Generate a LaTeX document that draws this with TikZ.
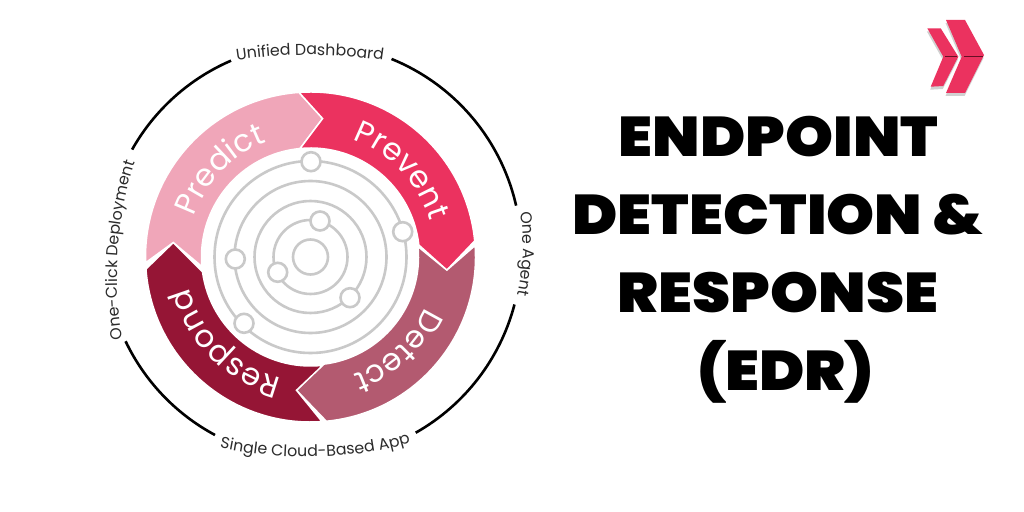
\documentclass[tikz,border=0pt]{standalone}
\usepackage{fontspec}
\usetikzlibrary{decorations.text}
\setmainfont{Poppins}
\newfontfamily\titlefont[FakeStretch=1.09]{Poppins Black}
\definecolor{cPredict}{HTML}{F0A6B9}
\definecolor{cPrevent}{HTML}{EB325F}
\definecolor{cDetect}{HTML}{B35A70}
\definecolor{cRespond}{HTML}{951535}
\definecolor{cRing}{HTML}{C9C9C9}
\definecolor{cText}{HTML}{2B2B2B}
\tikzset{
  x=1pt,y=1pt,
  seg/.style={draw=white,line width=1.5pt,line join=miter},
  ring/.style={draw=cRing,line width=2.6pt},
  dot/.style={circle,draw=cRing,line width=2.6pt,fill=white,minimum size=19pt,inner sep=0pt},
  outerarc/.style={draw=black,line width=2.6pt},
  seglabel/.style={decorate,decoration={text along path,text align=center,
     text={|\fontsize{31}{31}\selectfont\color{white}|#1}}},
  ringlabel/.style={decorate,decoration={text along path,text align=center,
     text={|\fontsize{15.8}{15.8}\selectfont\color{cText}|#1}}},
  titletext/.style={font=\fontsize{56}{56}\titlefont,text=black,inner sep=0pt,anchor=base},
  chev/.style={fill=cPrevent,draw=none},
  chevsh/.style={fill=black!45,draw=none,opacity=.4},
}
\begin{document}
\begin{tikzpicture}
\useasboundingbox (0,0) rectangle (1024,511);
\fill[white] (0,0) rectangle (1024,511);
\begin{scope}[shift={(310.5,254)}]
  \path[seg,fill=cPredict] (182:165) arc[start angle=182,end angle=94,radius=165]
     -- (85:139) -- (95.5:109) arc[start angle=95.5,end angle=185,radius=109] -- (174:138) -- cycle;
  \path[seg,fill=cPrevent] (94:165) arc[start angle=94,end angle=5.6,radius=165]
     -- (-5.5:137) -- (6.3:109) arc[start angle=6.3,end angle=95.5,radius=109] -- (85:139) -- cycle;
  \path[seg,fill=cDetect] (4:165) arc[start angle=4,end angle=-84.5,radius=165]
     -- (-96:134) -- (-83.5:108) arc[start angle=-83.5,end angle=5.5,radius=108] -- (-5.5:137) -- cycle;
  \path[seg,fill=cRespond] (274:165) arc[start angle=274,end angle=184.2,radius=165]
     -- (174:138) -- (187.8:109) arc[start angle=187.8,end angle=276.5,radius=109] -- (264:134) -- cycle;
  \path[seglabel={Predict}] (198:123) arc[start angle=198,end angle=74,radius=123];
  \path[seglabel={Prevent}] (104:125) arc[start angle=104,end angle=-17,radius=125];
  \path[seglabel={Detect}] (13:125) arc[start angle=13,end angle=-107,radius=125];
  \path[seglabel={Respond}] (285:125) arc[start angle=285,end angle=166,radius=125];
  \foreach \r in {17.5,37,56,76,96} \draw[ring] (0,0) circle[radius=\r];
\end{scope}
\node[dot] (d1) at (311,349.3) {};
\node[dot] (d2) at (320,290) {};
\node[dot] (d3) at (402.7,279.3) {};
\node[dot] (d4) at (235.3,252) {};
\node[dot] (d5) at (277.7,238.7) {};
\node[dot] (d6) at (350,213.3) {};
\node[dot] (d7) at (244,187.7) {};
\begin{scope}[shift={(313.3,259.3)}]
  \draw[outerarc] (67.9:208) arc[start angle=67.9,end angle=12.8,radius=208];
  \draw[outerarc] (-14.7:208) arc[start angle=-14.7,end angle=-60.5,radius=208];
  \draw[outerarc] (-118.2:208) arc[start angle=-118.2,end angle=-154.5,radius=208];
  \draw[outerarc] (150.6:208) arc[start angle=150.6,end angle=113.3,radius=208];
\end{scope}
\path[ringlabel={Unified Dashboard}] (216,447) .. controls (280,459) and (340,459) .. (404,447);
\path[ringlabel={One Agent}] (519,310) .. controls (525,280) and (525,245) .. (515,205);
\path[ringlabel={Single Cloud-Based App}] (205,67) .. controls (270,49) and (360,49) .. (425,73);
\path[ringlabel={One-Click Deployment}] (125,155) .. controls (113,215) and (113,295) .. (141,365);
\node[titletext] (t1) at (778.5,354) {ENDPOINT};
\node[titletext] (t2) at (778,276) {DETECTION \&};
\node[titletext] (t3) at (778,198) {RESPONSE};
\node[titletext] (t4) at (785.5,120) {(EDR)};
\begin{scope}[yshift=-3pt,xshift=-0.5pt]
  \fill[chevsh] (927.3,482.7) -- (940.7,482.7) -- (958.3,454.3) -- (943.3,425) -- (930.7,424.3) -- (943.3,454.3) -- cycle;
  \fill[chevsh] (946,491) -- (965,491) -- (984,456) -- (965,418) -- (946,418) -- (961.7,454.3) -- cycle;
\end{scope}
\fill[chev] (927.3,482.7) -- (940.7,482.7) -- (958.3,454.3) -- (943.3,425) -- (930.7,424.3) -- (943.3,454.3) -- cycle;
\fill[chev] (946,491) -- (965,491) -- (984,456) -- (965,418) -- (946,418) -- (961.7,454.3) -- cycle;
\draw[cRespond!70!black,line width=1pt] (945,454.5) -- (957,454.5);
\draw[cRespond!70!black,line width=1pt] (964,454.5) -- (983,454.5);
\end{tikzpicture}
\end{document}
